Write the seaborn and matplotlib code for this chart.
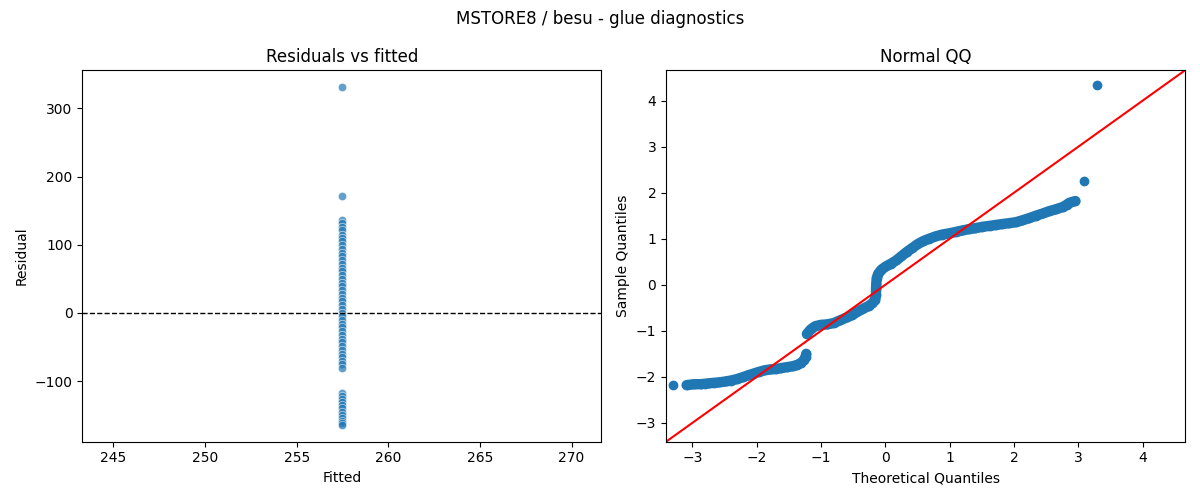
import numpy as np
import pandas as pd
import seaborn as sns
import matplotlib
matplotlib.use("Agg")
import matplotlib.pyplot as plt

# residuals vs fitted (all rows share one fitted value)
fitted_value = 257.46
residuals = [331, 172,
             137, 132, 126, 121, 115, 110, 105, 99, 94, 88, 83, 77, 72, 66, 61,
             55, 50, 44, 39, 33, 28, 22, 17, 11, 6, 0, -5, -10, -16, -21, -27,
             -32, -38, -43, -49, -54, -60, -65, -70, -75, -80,
             -117, -121, -126, -131, -135, -140, -145, -149, -154, -158, -161, -164]

# normal QQ points
qq_theoretical = [-3.30, -3.09, -2.97, -2.87, -2.80, -2.74, -2.66, -2.58, -2.48, -2.40,
                  -2.31, -2.22, -2.14, -2.05, -1.96, -1.88, -1.79, -1.70, -1.62, -1.53,
                  -1.44, -1.37, -1.31, -1.27, -1.24, -1.23,
                  -1.22, -1.16, -1.09, -1.00, -0.90, -0.80, -0.70, -0.60, -0.52, -0.45,
                  -0.36, -0.26, -0.20, -0.16, -0.145, -0.145, -0.14, -0.135, -0.11, -0.06,
                  0.01, 0.09, 0.17, 0.25, 0.33, 0.42, 0.50, 0.59, 0.68, 0.78,
                  0.88, 1.00, 1.10, 1.20, 1.30, 1.40, 1.51, 1.62, 1.72, 1.82,
                  1.93, 2.03, 2.13, 2.24, 2.34, 2.45, 2.55, 2.65, 2.76, 2.82,
                  2.86, 2.955, 3.085, 3.29]
qq_sample = [-2.17, -2.18, -2.16, -2.16, -2.15, -2.14, -2.13, -2.12, -2.10, -2.08,
             -2.05, -2.01, -1.97, -1.93, -1.89, -1.86, -1.84, -1.83, -1.81, -1.79,
             -1.77, -1.74, -1.70, -1.64, -1.57, -1.50,
             -1.07, -0.97, -0.90, -0.87, -0.86, -0.83, -0.77, -0.71, -0.66, -0.60,
             -0.53, -0.46, -0.40, -0.33, -0.22, -0.10, 0.02, 0.14, 0.24, 0.33,
             0.40, 0.46, 0.53, 0.62, 0.71, 0.80, 0.88, 0.95, 1.00, 1.05,
             1.09, 1.12, 1.15, 1.18, 1.21, 1.23, 1.26, 1.28, 1.30, 1.32,
             1.34, 1.36, 1.40, 1.45, 1.50, 1.55, 1.60, 1.64, 1.69, 1.74,
             1.78, 1.82, 2.26, 4.35]

resid_df = pd.DataFrame({'Fitted': fitted_value, 'Residual': residuals})
qq_df = pd.DataFrame({'theo': qq_theoretical, 'sample': qq_sample})

# split the QQ points into runs wherever neighbouring points are far apart
gap = np.hypot(np.diff(qq_df['theo']), np.diff(qq_df['sample']))
qq_df['run'] = np.concatenate([[0], np.cumsum(gap > 0.18)])

fig, axes = plt.subplots(1, 2, figsize=(12, 5))

ax = axes[0]
sns.scatterplot(data=resid_df, x='Fitted', y='Residual', alpha=0.7, ax=ax)
ax.axhline(0, color='black', linestyle='--', linewidth=1)
ax.set_title('Residuals vs fitted')
ax.set_xlabel('Fitted')
ax.set_ylabel('Residual')

ax = axes[1]
blue = sns.color_palette()[0]
for run, part in qq_df.groupby('run'):
    if len(part) > 1:
        sns.lineplot(data=part, x='theo', y='sample', sort=False, estimator=None,
                     color=blue, linewidth=7.5, solid_capstyle='round', ax=ax)
sns.scatterplot(data=qq_df, x='theo', y='sample', color=blue, s=36,
                edgecolor=blue, linewidth=1, ax=ax)
lims = [-3.41, 4.66]
ax.plot(lims, lims, 'r-', linewidth=1.5)
ax.set_xlim(lims)
ax.set_ylim(lims)
ax.set_title('Normal QQ')
ax.set_xlabel('Theoretical Quantiles')
ax.set_ylabel('Sample Quantiles')

fig.suptitle('MSTORE8 / besu - glue diagnostics')
fig.tight_layout()
fig.savefig('out.png', dpi=100)
